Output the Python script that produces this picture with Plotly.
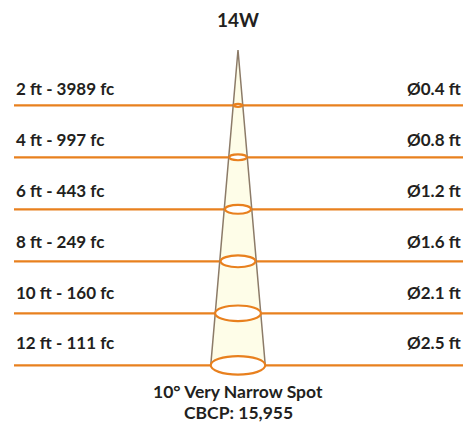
import plotly.graph_objects as go

# ---- data ----
title_text = "14W"
distances_ft = [2, 4, 6, 8, 10, 12]
footcandles = [3989, 997, 443, 249, 160, 111]
diameters_ft = [0.4, 0.8, 1.2, 1.6, 2.1, 2.5]
beam_label = "10° Very Narrow Spot"
cbcp_label = "CBCP: 15,955"

# ---- styling / layout ----
W, H = 469, 427
ORANGE = "#E8801E"
TEXT = "#231F20"
CONE_FILL = "#FEFDE8"
CONE_EDGE = "#8C7B68"
FONT = "Lato"

px_per_ft_y = 26.0
px_per_ft_x = 21.8
y_top = distances_ft[0] - 105.3 / px_per_ft_y
y_bot = y_top + H / px_per_ft_y
cx_px = 238
x_left = -cx_px / px_per_ft_x
x_right = (W - cx_px) / px_per_ft_x
line_x0 = (14 - cx_px) / px_per_ft_x
line_x1 = (463 - cx_px) / px_per_ft_x
apex_y = y_top + 50 / px_per_ft_y

fig = go.Figure()

# horizontal distance lines
for d in distances_ft:
    fig.add_trace(go.Scatter(x=[line_x0, line_x1], y=[d, d], mode="lines",
                             line=dict(color=ORANGE, width=2.2), hoverinfo="skip",
                             showlegend=False))

# beam cone
half_last = diameters_ft[-1] / 2
fig.add_trace(go.Scatter(x=[0, -half_last, half_last, 0],
                         y=[apex_y, distances_ft[-1], distances_ft[-1], apex_y],
                         mode="lines", fill="toself", fillcolor=CONE_FILL,
                         line=dict(color=CONE_EDGE, width=1.5), hoverinfo="skip",
                         showlegend=False))

shapes = []
annotations = []
for i, (d, fc, dia) in enumerate(zip(distances_ft, footcandles, diameters_ft)):
    hw = dia / 2
    hh = 0.34 * hw * px_per_ft_x / px_per_ft_y
    shapes.append(dict(type="circle", xref="x", yref="y",
                       x0=-hw, x1=hw, y0=d - hh, y1=d + hh,
                       line=dict(color=ORANGE, width=2.2), fillcolor="white"))
    yshift = 4 + i * 1.2
    annotations.append(dict(x=line_x0, y=d, xref="x", yref="y", xanchor="left",
                            yanchor="bottom", yshift=yshift, showarrow=False,
                            text=f"<b>{d} ft - {fc} fc</b>",
                            font=dict(family=FONT, size=17, color=TEXT)))
    annotations.append(dict(x=line_x1, y=d, xref="x", yref="y", xanchor="right",
                            yanchor="bottom", yshift=yshift, showarrow=False,
                            text=f"<b>Ø{dia} ft</b>",
                            font=dict(family=FONT, size=17, color=TEXT)))

annotations.append(dict(x=0, y=1 - 19.5 / H, xref="x", yref="paper", xanchor="center",
                        yanchor="middle", showarrow=False,
                        text=f"<b>{title_text}</b>",
                        font=dict(family=FONT, size=19, color=TEXT)))
annotations.append(dict(x=0, y=1 - 391.5 / H, xref="x", yref="paper", xanchor="center",
                        yanchor="middle", showarrow=False,
                        text=f"<b>{beam_label}</b>",
                        font=dict(family=FONT, size=17.5, color=TEXT)))
annotations.append(dict(x=0, y=1 - 412.5 / H, xref="x", yref="paper", xanchor="center",
                        yanchor="middle", showarrow=False,
                        text=f"<b>{cbcp_label}</b>",
                        font=dict(family=FONT, size=17.5, color=TEXT)))

fig.update_layout(
    width=W, height=H, margin=dict(l=0, r=0, t=0, b=0),
    paper_bgcolor="white", plot_bgcolor="white",
    xaxis=dict(range=[x_left, x_right], visible=False, fixedrange=True),
    yaxis=dict(range=[y_bot, y_top], visible=False, fixedrange=True),
    shapes=shapes, annotations=annotations, showlegend=False,
)

fig.write_html("out.html", config={"displayModeBar": False},
               post_script="document.body.style.margin='0';document.body.style.overflow='hidden';")
